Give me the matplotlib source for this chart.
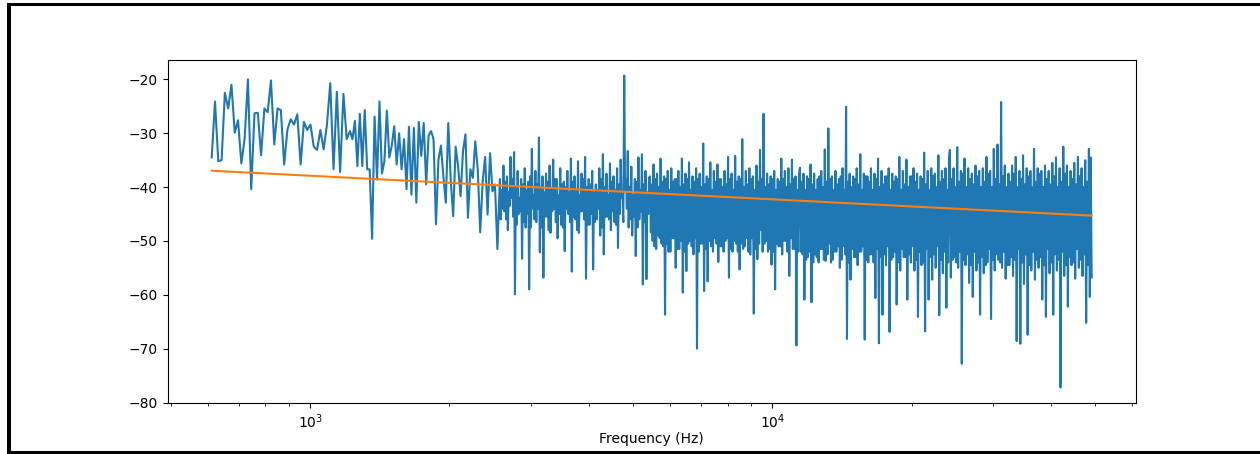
import numpy as np
import matplotlib.pyplot as plt
from matplotlib.patches import Rectangle

# frequency edges (Hz) of the stretches the spectrum was read in
band_edges = [612, 1219, 2572, 5433, 11470, 24213, 49060]

# magnitude (dB), one list per stretch
level_1 = [-34.5, -24.1, -35.2, -35.0, -22.5, -25.4, -21.0, -29.9, -27.6, -35.6,
           -31.0, -20.0, -40.4, -26.3, -26.2, -34.1, -25.4, -26.1, -20.2, -32.1,
           -25.4, -25.7, -35.8, -29.3, -27.4, -28.4, -26.5, -35.8, -27.9, -29.4,
           -28.4, -32.5, -33.1, -29.4, -33.0, -28.4, -20.7, -36.7, -22.3, -37.2,
           -22.7, -31.1]
level_2 = [-29.6, -31.1, -27.7, -36.1, -26.4, -36.1, -25.7, -36.7, -36.7, -49.6,
           -26.9, -38.6, -24.1, -37.5, -35.2, -25.8, -34.5, -32.3, -28.7, -35.8,
           -30.0, -36.7, -31.1, -40.4, -28.8, -41.4, -29.0, -42.9, -27.9, -34.2,
           -28.1, -39.5, -30.4, -29.6, -31.1, -46.9, -34.9, -32.3, -38.0, -42.9,
           -28.1, -38.6, -45.4, -32.5, -36.1, -41.7, -33.3, -30.2, -45.7, -36.7,
           -38.3, -31.5, -36.7, -48.4, -38.9, -34.4, -45.1, -33.7, -40.8, -39.5,
           -51.5]
# from here on the trace is dense: peaks and troughs alternate
level_3 = [-38.5, -46.0, -40.5, -44.0, -36.0, -44.5, -39.0, -46.0,
           -38.0, -48.0, -41.0, -43.5, -34.4, -42.0, -38.5, -45.5,
           -33.5, -59.9, -40.0, -47.0, -37.0, -45.0, -42.0, -44.5,
           -38.5, -53.3, -39.5, -46.5, -36.5, -47.5, -40.5, -45.0,
           -39.0, -59.0, -38.0, -47.5, -32.9, -44.0, -41.5, -46.0,
           -37.0, -46.5, -39.5, -44.0, -30.8, -52.1, -40.0, -47.5,
           -38.0, -56.8, -41.0, -45.5, -37.5, -45.5, -39.0, -48.0,
           -36.0, -48.5, -40.5, -44.5, -34.9, -44.0, -38.5, -46.5,
           -38.5, -49.5, -41.5, -45.0, -36.5, -47.0, -39.5, -47.5,
           -39.0, -51.9, -40.0, -44.0, -37.0, -45.0, -41.0, -46.5,
           -34.7, -55.7, -39.0, -45.5, -38.0, -46.0, -40.5, -48.0,
           -35.2, -48.5, -41.5, -44.5, -37.5, -44.5, -38.5, -46.0,
           -34.4, -57.0, -40.0, -47.0, -38.5, -47.0, -39.5, -45.0,
           -37.0, -55.3, -41.0, -46.5, -39.5, -46.0, -40.5, -44.0,
           -36.5, -49.0, -38.5, -47.5, -33.9, -52.5, -40.0, -45.5,
           -37.5, -45.5, -41.5, -46.0, -35.6, -48.0, -39.0, -44.5,
           -38.0, -46.5, -40.5, -47.0, -36.5, -51.3, -39.5, -45.0,
           -34.9, -42.0, -41.0, -46.5, -19.3, -40.5, -38.5, -44.0,
           -33.3, -47.5, -40.0, -46.0, -36.2, -49.0, -41.5, -45.5,
           -38.5, -52.8, -39.0, -47.5, -34.5, -46.0, -40.5, -44.5,
           -33.9, -58.1, -39.5, -46.5, -37.0, -57.1, -41.0, -45.0,
           -38.3]
level_4 = [-38.0, -48.4, -39.5, -50.0, -35.8, -51.0, -38.5, -51.5,
           -37.5, -49.0, -40.0, -49.5, -34.7, -50.5, -39.0, -51.0,
           -38.0, -63.7, -38.5, -50.5, -37.0, -52.0, -40.5, -52.0,
           -36.5, -49.5, -39.0, -49.5, -38.5, -55.0, -38.5, -51.5,
           -37.0, -51.5, -40.0, -50.0, -34.7, -59.6, -39.5, -52.0,
           -37.5, -55.6, -38.5, -50.5, -35.4, -50.0, -40.5, -51.0,
           -38.0, -52.5, -39.0, -49.5, -36.5, -70.0, -38.5, -52.0,
           -37.5, -50.5, -40.0, -50.5, -31.9, -59.3, -39.5, -51.5,
           -38.0, -57.5, -38.5, -50.0, -35.4, -51.0, -40.5, -52.0,
           -37.0, -49.5, -39.0, -50.5, -35.8, -53.9, -38.5, -51.0,
           -38.5, -51.0, -40.0, -52.0, -37.0, -50.0, -39.5, -49.5,
           -34.4, -56.8, -38.5, -51.5, -37.5, -52.0, -40.5, -50.0,
           -34.2, -50.5, -39.0, -52.0, -38.0, -55.3, -38.5, -50.5,
           -31.1, -51.5, -40.0, -51.0, -37.0, -49.5, -39.5, -52.0,
           -36.5, -52.5, -38.5, -49.5, -38.0, -63.5, -40.5, -51.5,
           -36.0, -53.4, -39.0, -50.5, -33.1, -48.0, -38.5, -52.0,
           -26.4, -50.5, -40.0, -50.0, -37.5, -52.0, -39.5, -51.5,
           -38.0, -54.4, -38.5, -52.0, -37.0, -59.0, -40.5, -50.5,
           -38.5, -51.0, -39.0, -51.0, -34.7, -52.5, -38.5, -50.0,
           -37.0, -50.0, -40.0, -52.0, -36.5, -56.5, -39.5, -49.5,
           -34.9, -51.5, -38.5, -51.5, -38.0, -69.4, -40.5, -52.0,
           -37.5]
level_5 = [-36.4, -52.0, -39.0, -52.5, -37.5, -60.9, -40.5, -53.5,
           -38.0, -53.0, -38.5, -52.0, -35.8, -61.4, -39.5, -54.0,
           -37.5, -52.5, -40.5, -53.0, -38.5, -54.0, -38.0, -51.5,
           -37.0, -51.5, -40.0, -53.5, -33.0, -53.7, -39.0, -52.5,
           -29.1, -50.5, -38.5, -54.0, -38.0, -53.5, -40.5, -52.0,
           -37.0, -52.0, -39.5, -51.0, -38.5, -55.0, -38.0, -53.5,
           -36.5, -51.0, -40.5, -52.5, -25.1, -68.2, -39.0, -54.0,
           -37.5, -57.2, -40.0, -51.5, -38.0, -53.0, -38.5, -53.0,
           -36.5, -54.5, -39.5, -52.0, -33.9, -52.0, -40.5, -51.0,
           -37.5, -68.3, -38.0, -53.5, -38.0, -54.0, -39.0, -52.5,
           -36.5, -52.5, -40.5, -54.0, -37.5, -60.6, -38.5, -51.5,
           -34.7, -69.0, -40.0, -53.0, -37.0, -63.7, -39.5, -52.5,
           -38.0, -54.5, -38.0, -51.0, -36.5, -66.9, -40.5, -53.5,
           -37.5, -53.0, -39.0, -52.0, -38.0, -61.8, -38.5, -54.0,
           -34.4, -55.5, -40.5, -51.5, -37.0, -53.0, -39.5, -53.0,
           -34.9, -60.9, -40.0, -52.5, -38.0, -54.0, -38.0, -51.0,
           -36.5, -55.5, -39.0, -53.5, -37.5, -64.1, -40.5, -52.0,
           -38.0, -54.5, -38.5, -54.0, -33.6, -66.8, -39.5, -51.5,
           -37.0, -60.9, -40.5, -53.0, -36.5, -57.2, -38.0, -52.5,
           -37.5, -55.0, -40.0, -51.0, -34.1, -63.8, -39.0, -53.5,
           -37.0, -56.0, -38.5, -52.0, -36.5, -62.4, -40.5, -54.0,
           -34.7]
level_6 = [-33.1, -56.8, -38.5, -53.5, -36.5, -53.0, -40.0, -54.0,
           -32.6, -55.0, -39.0, -52.0, -37.0, -72.8, -37.5, -53.5,
           -34.7, -54.5, -40.0, -52.5, -36.5, -57.8, -38.5, -54.5,
           -37.5, -60.4, -39.5, -52.0, -36.0, -55.5, -38.0, -54.0,
           -37.0, -63.7, -40.0, -53.0, -36.5, -56.0, -39.0, -54.5,
           -34.4, -54.0, -37.5, -51.5, -37.0, -64.5, -40.0, -53.5,
           -32.9, -55.5, -38.5, -52.5, -32.1, -53.5, -39.5, -54.0,
           -24.2, -55.0, -38.0, -52.0, -36.0, -57.0, -40.0, -54.5,
           -37.5, -54.5, -39.0, -53.0, -36.0, -56.5, -37.5, -53.5,
           -34.4, -68.6, -40.0, -51.5, -37.0, -69.1, -38.5, -54.0,
           -34.1, -58.0, -39.5, -52.5, -36.5, -67.4, -38.0, -54.5,
           -37.0, -55.5, -40.0, -52.0, -32.9, -57.2, -39.0, -53.5,
           -36.5, -55.0, -37.5, -53.0, -37.0, -60.9, -40.0, -54.5,
           -36.0, -64.1, -38.5, -51.5, -37.0, -56.0, -39.5, -54.0,
           -35.5, -63.7, -38.0, -52.5, -34.5, -55.5, -40.0, -53.5,
           -36.5, -77.2, -39.0, -52.0, -32.5, -56.5, -37.5, -54.5,
           -36.0, -62.2, -40.0, -53.0, -37.0, -54.5, -38.5, -54.0,
           -35.5, -57.0, -39.5, -51.5, -34.4, -55.0, -38.0, -53.5,
           -36.5, -56.5, -40.0, -52.5, -35.0, -65.2, -39.0, -54.5,
           -32.9, -60.4, -34.5, -56.8]

# straight-line fit of the spectrum (dB) at the first and last frequency
fit_freqs = [612, 49060]
fit_levels = [-36.96, -45.3]

# put the stretches together on their frequency bins
segments = [level_1, level_2, level_3, level_4, level_5, level_6]
freqs, levels = [], []
for i, seg in enumerate(segments):
    last = i == len(segments) - 1
    f = np.geomspace(band_edges[i], band_edges[i + 1], len(seg), endpoint=last)
    freqs.extend(f)
    levels.extend(seg)

fig, ax = plt.subplots(figsize=(12.6, 4.54), dpi=100)
fig.subplots_adjust(left=0.1331, right=0.9013, top=0.8678, bottom=0.1123)

ax.semilogx(freqs, levels)
ax.semilogx(fit_freqs, fit_levels)
ax.set_xlabel("Frequency (Hz)", labelpad=0.5)

# black frame of the screenshot: top, left and bottom edges
W, H = 1260, 454
for x0, y0, w, h in [(6.7, H - 6, W, 3), (6.7, 0, 4.3, H - 3), (6.7, 0, W, 3.3)]:
    fig.add_artist(Rectangle((x0 / W, y0 / H), w / W, h / H,
                             transform=fig.transFigure, color="black", lw=0))

fig.savefig("out.png")
